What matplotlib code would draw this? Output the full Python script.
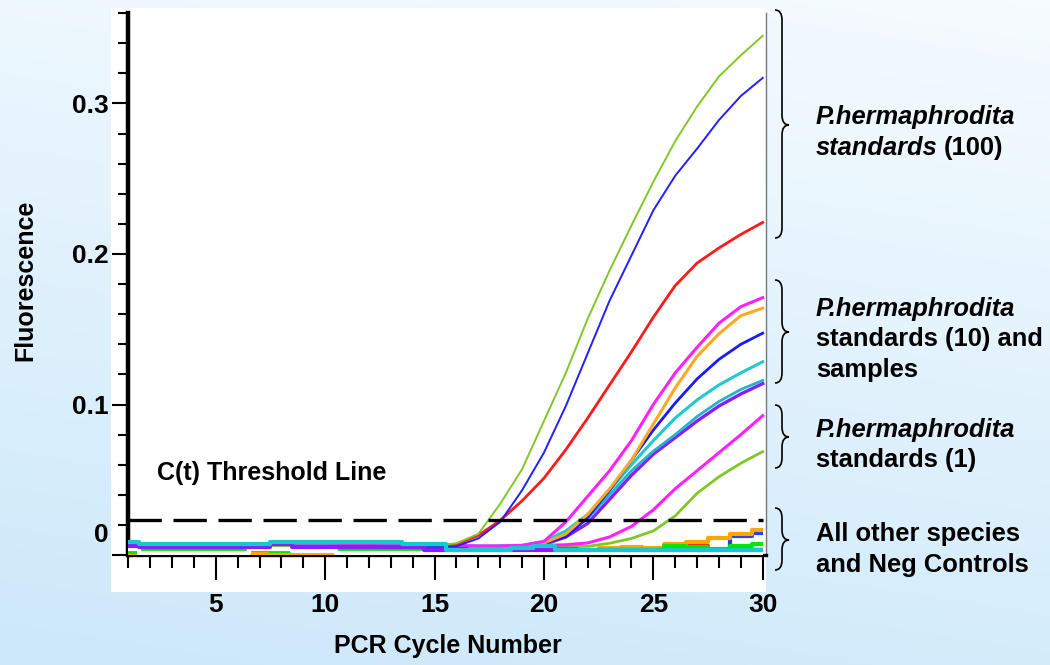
# -------------------- Modules --------------------
import numpy as np
import matplotlib
matplotlib.use("Agg")
from matplotlib import pyplot as plt
from matplotlib.patches import Rectangle, PathPatch
from matplotlib.path import Path
from matplotlib.ticker import FixedLocator, MultipleLocator
from matplotlib.transforms import offset_copy


# -------------------- Data --------------------
cycles = list(range(1, 31))

# amplified curves (fluorescence per cycle)
std100_green = [0.0050, 0.0052, 0.0052, 0.0050, 0.0050, 0.0052, 0.0054, 0.0054, 0.0052, 0.0052,
                0.0050, 0.0050, 0.0052, 0.0056, 0.0062, 0.0078, 0.0140, 0.0340, 0.0570, 0.0890,
                0.1210, 0.1570, 0.1890, 0.2190, 0.2480, 0.2750, 0.2980, 0.3180, 0.3320, 0.3450]
std100_blue = [0.0046, 0.0046, 0.0048, 0.0048, 0.0046, 0.0046, 0.0048, 0.0050, 0.0050, 0.0048,
               0.0046, 0.0046, 0.0048, 0.0048, 0.0046, 0.0058, 0.0110, 0.0220, 0.0430, 0.0680,
               0.0990, 0.1340, 0.1690, 0.1990, 0.2290, 0.2520, 0.2700, 0.2890, 0.3050, 0.3170]
std100_red = [0.0056, 0.0056, 0.0058, 0.0058, 0.0056, 0.0056, 0.0058, 0.0058, 0.0056, 0.0056,
              0.0058, 0.0058, 0.0056, 0.0056, 0.0058, 0.0072, 0.0130, 0.0230, 0.0360, 0.0510,
              0.0700, 0.0910, 0.1130, 0.1350, 0.1580, 0.1790, 0.1940, 0.2040, 0.2130, 0.2210]
std10_magenta = [0.0060, 0.0060, 0.0062, 0.0062, 0.0060, 0.0060, 0.0062, 0.0062, 0.0060, 0.0060,
                 0.0062, 0.0062, 0.0060, 0.0060, 0.0062, 0.0062, 0.0060, 0.0060, 0.0064, 0.0090,
                 0.0220, 0.0390, 0.0560, 0.0760, 0.1000, 0.1210, 0.1380, 0.1540, 0.1650, 0.1710]
std10_orange = [0.0054, 0.0054, 0.0056, 0.0056, 0.0054, 0.0054, 0.0056, 0.0056, 0.0054, 0.0054,
                0.0056, 0.0056, 0.0054, 0.0054, 0.0056, 0.0056, 0.0054, 0.0056, 0.0058, 0.0080,
                0.0140, 0.0270, 0.0440, 0.0630, 0.0870, 0.1110, 0.1320, 0.1470, 0.1590, 0.1640]
std10_blue = [0.0052, 0.0052, 0.0054, 0.0054, 0.0052, 0.0052, 0.0054, 0.0054, 0.0052, 0.0052,
              0.0054, 0.0054, 0.0052, 0.0052, 0.0054, 0.0054, 0.0052, 0.0054, 0.0056, 0.0080,
              0.0120, 0.0250, 0.0430, 0.0630, 0.0830, 0.1010, 0.1170, 0.1300, 0.1400, 0.1474]
std10_cyan = [0.0070, 0.0070, 0.0072, 0.0072, 0.0070, 0.0070, 0.0072, 0.0072, 0.0070, 0.0070,
              0.0072, 0.0072, 0.0070, 0.0070, 0.0072, 0.0060, 0.0058, 0.0060, 0.0064, 0.0090,
              0.0160, 0.0270, 0.0430, 0.0600, 0.0760, 0.0910, 0.1030, 0.1130, 0.1210, 0.1284]
std10_teal = [0.0064, 0.0064, 0.0066, 0.0066, 0.0064, 0.0064, 0.0066, 0.0066, 0.0064, 0.0064,
              0.0066, 0.0066, 0.0064, 0.0064, 0.0066, 0.0060, 0.0058, 0.0058, 0.0060, 0.0080,
              0.0140, 0.0240, 0.0400, 0.0560, 0.0690, 0.0800, 0.0920, 0.1020, 0.1100, 0.1160]
std10_purple = [0.0050, 0.0050, 0.0052, 0.0052, 0.0050, 0.0050, 0.0052, 0.0052, 0.0050, 0.0050,
                0.0052, 0.0052, 0.0050, 0.0050, 0.0052, 0.0050, 0.0050, 0.0052, 0.0056, 0.0070,
                0.0120, 0.0210, 0.0370, 0.0530, 0.0670, 0.0780, 0.0890, 0.0990, 0.1070, 0.1139]
std1_magenta = [0.0058, 0.0058, 0.0060, 0.0060, 0.0058, 0.0058, 0.0060, 0.0060, 0.0058, 0.0058,
                0.0060, 0.0060, 0.0058, 0.0058, 0.0060, 0.0060, 0.0058, 0.0058, 0.0060, 0.0064,
                0.0068, 0.0080, 0.0120, 0.0190, 0.0300, 0.0440, 0.0560, 0.0680, 0.0800, 0.0926]
std1_green = [0.0054, 0.0054, 0.0056, 0.0056, 0.0054, 0.0054, 0.0056, 0.0056, 0.0054, 0.0054,
              0.0056, 0.0056, 0.0054, 0.0054, 0.0056, 0.0056, 0.0054, 0.0054, 0.0056, 0.0056,
              0.0056, 0.0058, 0.0078, 0.0110, 0.0160, 0.0260, 0.0410, 0.0520, 0.0610, 0.0687]

# other species and negative controls (flat, drawn as steps)
neg_olive = [0.0008, 0.0008, 0.0008, 0.0008, 0.0008, 0.0008, 0.0008, 0.0008, 0.0008, 0.0008,
             0.0008, 0.0008, 0.0008, 0.0008, 0.0008, 0.0008, 0.0008, 0.0008, 0.0008, 0.0008,
             0.0008, 0.0008, 0.0008, 0.0008, 0.0008, 0.0008, 0.0008, 0.0008, 0.0008, 0.0008]
neg_yellow = [0.0018, 0.0018, 0.0018, 0.0018, 0.0018, 0.0018, 0.0018, 0.0018, 0.0018, 0.0018,
              0.0018, 0.0018, 0.0018, 0.0018, 0.0018, 0.0015, 0.0015, 0.0015, 0.0015, 0.0015,
              0.0015, 0.0015, 0.0015, 0.0015, 0.0015, 0.0015, 0.0015, 0.0015, 0.0015, 0.0015]
neg_teal = [0.0012, 0.0012, 0.0012, 0.0012, 0.0012, 0.0012, 0.0012, 0.0012, 0.0012, 0.0012,
            0.0012, 0.0012, 0.0012, 0.0012, 0.0012, 0.0032, 0.0032, 0.0032, 0.0032, 0.0032,
            0.0022, 0.0022, 0.0022, 0.0022, 0.0022, 0.0022, 0.0022, 0.0022, 0.0022, 0.0022]
neg_magenta = [0.0008, 0.0008, 0.0008, 0.0008, 0.0012, 0.0010, 0.0010, 0.0010, 0.0010, 0.0010,
               0.0010, 0.0010, 0.0010, 0.0010, 0.0010, 0.0010, 0.0010, 0.0010, 0.0010, 0.0040,
               0.0040, 0.0012, 0.0012, 0.0012, 0.0012, 0.0012, 0.0012, 0.0012, 0.0012, 0.0030]
neg_white = [0.0042, 0.0016, 0.0016, 0.0016, 0.0012, 0.0012, 0.0042, 0.0042, 0.0028, 0.0028,
             0.0016, 0.0016, 0.0016, 0.0016, 0.0012, 0.0012, 0.0012, 0.0012, 0.0012, 0.0012,
             0.0012, 0.0012, 0.0012, 0.0012, 0.0012, 0.0012, 0.0012, 0.0012, 0.0012, 0.0012]
neg_orange = [0.0010, 0.0010, 0.0010, 0.0010, 0.0010, 0.0024, 0.0014, 0.0014, 0.0014, 0.0014,
              0.0014, 0.0014, 0.0014, 0.0014, 0.0014, 0.0014, 0.0014, 0.0014, 0.0014, 0.0014,
              0.0014, 0.0014, 0.0048, 0.0050, 0.0046, 0.0076, 0.0088, 0.0110, 0.0140, 0.0165]
neg_red = [0.0009, 0.0009, 0.0009, 0.0009, 0.0009, 0.0009, 0.0009, 0.0009, 0.0009, 0.0009,
           0.0009, 0.0009, 0.0009, 0.0009, 0.0009, 0.0009, 0.0009, 0.0009, 0.0009, 0.0009,
           0.0009, 0.0009, 0.0009, 0.0009, 0.0036, 0.0030, 0.0058, 0.0030, 0.0030, 0.0030]
neg_green = [0.0022, 0.0034, 0.0034, 0.0034, 0.0034, 0.0034, 0.0030, 0.0026, 0.0026, 0.0026,
             0.0030, 0.0030, 0.0030, 0.0032, 0.0026, 0.0026, 0.0026, 0.0026, 0.0026, 0.0026,
             0.0026, 0.0026, 0.0030, 0.0030, 0.0034, 0.0058, 0.0052, 0.0042, 0.0062, 0.0074]
neg_blue = [0.0020, 0.0020, 0.0020, 0.0020, 0.0020, 0.0020, 0.0020, 0.0020, 0.0020, 0.0020,
            0.0020, 0.0020, 0.0020, 0.0020, 0.0044, 0.0040, 0.0020, 0.0020, 0.0020, 0.0020,
            0.0020, 0.0020, 0.0020, 0.0020, 0.0020, 0.0020, 0.0020, 0.0020, 0.0128, 0.0148]
neg_purple = [0.0062, 0.0052, 0.0052, 0.0052, 0.0052, 0.0052, 0.0052, 0.0074, 0.0052, 0.0052,
              0.0052, 0.0052, 0.0052, 0.0056, 0.0036, 0.0030, 0.0030, 0.0030, 0.0030, 0.0030,
              0.0030, 0.0030, 0.0030, 0.0030, 0.0030, 0.0030, 0.0030, 0.0030, 0.0030, 0.0030]
neg_cyan = [0.0088, 0.0072, 0.0072, 0.0072, 0.0072, 0.0072, 0.0072, 0.0087, 0.0087, 0.0087,
            0.0087, 0.0087, 0.0087, 0.0076, 0.0076, 0.0034, 0.0034, 0.0034, 0.0045, 0.0060,
            0.0034, 0.0034, 0.0034, 0.0034, 0.0034, 0.0034, 0.0034, 0.0034, 0.0034, 0.0034]

threshold = 0.0235

x_ticks = [5, 10, 15, 20, 25, 30]
y_ticks = [0.1, 0.2, 0.3]
y_tick_labels = ["0.1", "0.2", "0.3"]
zero_label = "0"

x_label = "PCR Cycle Number"
y_label = "Fluorescence"
threshold_label = "C(t) Threshold Line"

# each line is a list of (text, italic) pieces
annotation_lines = [
    [("P.hermaphrodita", True)],
    [("standards", True), ("(100)", False)],
    [("P.hermaphrodita", True)],
    [("standards (10) and", False)],
    [("samples", False)],
    [("P.hermaphrodita", True)],
    [("standards (1)", False)],
    [("All other species", False)],
    [("and Neg Controls", False)],
]


# -------------------- Layout --------------------
FIG_W, FIG_H = 1050, 665
FONT = "Liberation Sans"
TEXT_SIZE = 18
ANNOT_SIZE = 18.4
TICK_SIZE = 19

AX_LEFT, AX_RIGHT, AX_TOP, AX_BOTTOM = 128.3, 766, 13.2, 555
X_MIN, X_MAX = 1, 30.15
Y_MIN, Y_MAX = 0, 0.36

ANNOT_X = 816
ANNOT_BASELINES = [124, 155, 316, 346, 377, 437, 467, 541, 572]
BRACES = [(10, 238, 125), (280, 383, 332), (405, 468, 437), (508, 570, 540)]


# -------------------- Helpers --------------------
def _fig_xy(x_px, y_px):
    """Pixel position (from top-left) to figure fraction"""
    return x_px / FIG_W, 1 - y_px / FIG_H


def _draw_background(fig) -> None:
    """Light blue gradient with the white plot panel on top"""
    bg = fig.add_axes([0, 0, 1, 1], zorder=-3)
    yy, xx = np.mgrid[0:1:200j, 0:1:300j]
    t = np.clip(0.8 * yy + 0.2 * (1 - xx), 0, 1)[..., None]
    top = np.array([0.965, 0.985, 1.0])
    bottom = np.array([0.80, 0.91, 0.98])
    bg.imshow(top + (bottom - top) * t, aspect="auto", extent=[0, 1, 0, 1])
    bg.axis("off")

    x0, y1 = _fig_xy(111, 592)
    x1, y0 = _fig_xy(766, 8)
    fig.add_artist(Rectangle((x0, y1), x1 - x0, y0 - y1, transform=fig.transFigure,
                             facecolor="white", edgecolor="none", zorder=-2))


def _draw_brace(fig, top, bottom, tip, x0=775, width=14) -> None:
    """Right-pointing curly brace, pixel coordinates"""
    xm = x0 + width * 0.5
    xt = x0 + width
    r = min(10, (bottom - top) / 6)
    pts = [(x0, top), (xm, top), (xm, top + r),
           (xm, tip - r), (xm, tip), (xt, tip),
           (xm, tip), (xm, tip + r),
           (xm, bottom - r), (xm, bottom), (x0, bottom)]
    codes = [Path.MOVETO, Path.CURVE3, Path.CURVE3,
             Path.LINETO, Path.CURVE3, Path.CURVE3,
             Path.CURVE3, Path.CURVE3,
             Path.LINETO, Path.CURVE3, Path.CURVE3]
    path = Path([_fig_xy(x, y) for x, y in pts], codes)
    fig.add_artist(PathPatch(path, transform=fig.transFigure, facecolor="none",
                             edgecolor="black", lw=1.2))


def _draw_annotations(fig) -> None:
    """Bold labels on the right, italic species name"""
    renderer = fig.canvas.get_renderer()
    for base, pieces in zip(ANNOT_BASELINES, annotation_lines):
        x = ANNOT_X
        for text, italic in pieces:
            fx, fy = _fig_xy(x, base)
            t = fig.text(fx, fy, text, family=FONT, fontsize=ANNOT_SIZE, fontweight="bold",
                         style="italic" if italic else "normal", ha="left", va="baseline")
            x = t.get_window_extent(renderer=renderer).x1 + 6
    for top, bottom, tip in BRACES:
        _draw_brace(fig, top, bottom, tip)


# -------------------- Plot --------------------
def plot_curves() -> None:
    """Amplification curves with the C(t) threshold"""
    fig = plt.figure(figsize=(FIG_W / 100, FIG_H / 100), dpi=100)
    _draw_background(fig)

    x0, y0 = _fig_xy(AX_LEFT, AX_BOTTOM)
    x1, y1 = _fig_xy(AX_RIGHT, AX_TOP)
    ax = fig.add_axes([x0, y0, x1 - x0, y1 - y0])
    ax.set_facecolor("none")

    curves = [
        (std1_green, "#80c828", 2.0), (std1_magenta, "#ff20ff", 2.2),
        (std10_purple, "#8a1cff", 2.4), (std10_teal, "#20b8c8", 2.0),
        (std10_cyan, "#20c8d0", 2.2), (std10_blue, "#1a1aff", 2.0),
        (std10_orange, "#ffa820", 2.2), (std10_magenta, "#ff20ff", 2.2),
        (std100_red, "#ff1a1a", 2.0), (std100_blue, "#2020ff", 1.4),
        (std100_green, "#80c828", 1.4),
    ]
    for values, color, lw in curves:
        ax.plot(cycles, values, color=color, lw=lw, zorder=3)

    # flat traces sit over the foot of the curves
    negatives = [
        (neg_olive, "#9a9a00"), (neg_teal, "#00a0a8"), (neg_blue, "#2040ff"),
        (neg_red, "#ff2000"), (neg_yellow, "#f0f000"), (neg_magenta, "#ff00ff"),
        (neg_orange, "#ffa500"), (neg_green, "#00e800"), (neg_white, "white"),
        (neg_purple, "#8a1cff"), (neg_cyan, "#18c8d0"),
    ]
    for values, color in negatives:
        ax.plot(cycles, values, drawstyle="steps-mid", color=color, lw=3.0,
                solid_capstyle="butt", zorder=4)

    ax.plot([X_MIN, 30], [threshold, threshold], color="black", lw=2.4,
            ls=(0, (10, 3.5)), zorder=5)
    ax.text(2.3, 0.0497, threshold_label, family=FONT, fontsize=TEXT_SIZE,
            fontweight="bold", ha="left", va="baseline", zorder=6)

    ax.set_xlim(X_MIN, X_MAX)
    ax.set_ylim(Y_MIN, Y_MAX)

    ax.spines["top"].set_visible(False)
    ax.spines["left"].set_linewidth(3.2)
    ax.spines["bottom"].set_linewidth(2.4)
    ax.spines["right"].set_color("#777777")
    ax.spines["right"].set_linewidth(1.0)

    ax.xaxis.set_major_locator(FixedLocator(x_ticks))
    ax.xaxis.set_minor_locator(MultipleLocator(1))
    ax.set_xticklabels([str(v) for v in x_ticks])
    ax.yaxis.set_major_locator(FixedLocator([0] + y_ticks))
    ax.yaxis.set_minor_locator(MultipleLocator(0.02))
    ax.set_yticklabels([""] + y_tick_labels)

    ax.tick_params(axis="x", which="major", length=18, width=1.5, pad=9,
                   labelsize=TICK_SIZE, direction="out")
    ax.tick_params(axis="x", which="minor", length=9.5, width=1.5, direction="out")
    ax.tick_params(axis="y", which="major", length=11.5, width=1.5, pad=2.7,
                   labelsize=TICK_SIZE, direction="out")
    ax.tick_params(axis="y", which="minor", length=7, width=1.5, direction="out")
    for lab in ax.get_xticklabels() + ax.get_yticklabels():
        lab.set_fontfamily(FONT)
        lab.set_fontweight("bold")

    # the "0" label sits between the bottom tick and the next one
    trans = offset_copy(ax.get_yaxis_transform(), fig=fig, x=-(11.5 + 2.7), units="points")
    ax.text(0, 0.0135, zero_label, transform=trans, family=FONT, fontsize=TICK_SIZE,
            fontweight="bold", ha="right", va="center")

    fx, fy = _fig_xy(448, 646)
    fig.text(fx, fy, x_label, family=FONT, fontsize=TEXT_SIZE, fontweight="bold",
             ha="center", va="center")
    fx, fy = _fig_xy(25, 280)
    fig.text(fx, fy, y_label, family=FONT, fontsize=TEXT_SIZE, fontweight="bold",
             ha="center", va="center", rotation=90)

    _draw_annotations(fig)
    fig.savefig("out.png", dpi=100)


# -------------------- Main -----------------------
def main():
    plot_curves()


if __name__ == "__main__":
    main()
